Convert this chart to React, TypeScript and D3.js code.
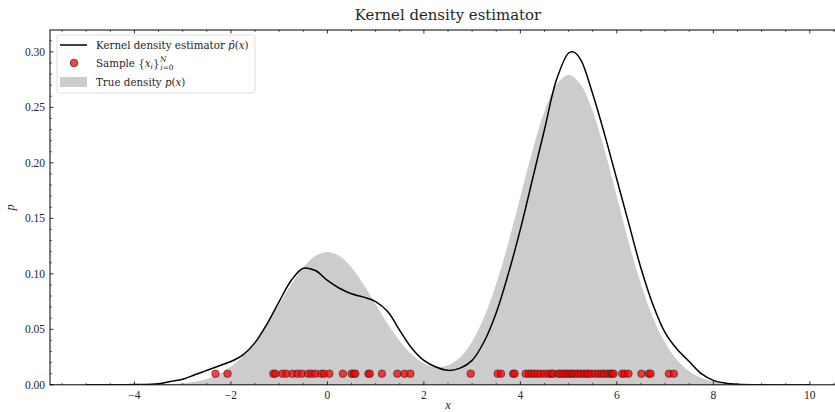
import React from "react";
import * as d3 from "d3";

// ---- data ----
const kdeX = [-5, -4.5, -4, -3.5, -3.25, -3, -2.75, -2.5, -2.25, -2, -1.75, -1.5, -1.25, -1, -0.75, -0.5, -0.25, 0, 0.25, 0.5, 0.75, 1, 1.25, 1.5, 1.75, 2, 2.25, 2.5, 2.75, 3, 3.25, 3.5, 3.75, 4, 4.25, 4.5, 4.75, 5, 5.1, 5.25, 5.5, 5.75, 6, 6.25, 6.5, 6.75, 7, 7.25, 7.5, 7.75, 8, 8.25, 8.5, 9, 10];
const kdeY = [0, 0, 0.0002, 0.001, 0.003, 0.005, 0.009, 0.013, 0.017, 0.021, 0.027, 0.038, 0.055, 0.075, 0.094, 0.105, 0.103, 0.094, 0.087, 0.082, 0.079, 0.075, 0.066, 0.049, 0.033, 0.022, 0.016, 0.013, 0.015, 0.022, 0.039, 0.065, 0.1, 0.14, 0.185, 0.23, 0.275, 0.299, 0.3, 0.293, 0.262, 0.225, 0.185, 0.145, 0.105, 0.072, 0.047, 0.032, 0.021, 0.01, 0.004, 0.0015, 0.0005, 0, 0];

const trueX = [-5, -4, -3.5, -3, -2.75, -2.5, -2.25, -2, -1.75, -1.5, -1.25, -1, -0.75, -0.5, -0.25, 0, 0.25, 0.5, 0.75, 1, 1.25, 1.5, 1.75, 2, 2.25, 2.5, 2.75, 3, 3.25, 3.5, 3.75, 4, 4.25, 4.5, 4.75, 5, 5.25, 5.5, 5.75, 6, 6.25, 6.5, 6.75, 7, 7.25, 7.5, 7.75, 8, 8.5, 9, 10];
const trueY = [0, 0.0, 0.0003, 0.0013, 0.0027, 0.0053, 0.0095, 0.0162, 0.0259, 0.0389, 0.0548, 0.0726, 0.0903, 0.1056, 0.116, 0.1197, 0.116, 0.1056, 0.0903, 0.0726, 0.0548, 0.0395, 0.0273, 0.0193, 0.0159, 0.0176, 0.0249, 0.0391, 0.061, 0.091, 0.1278, 0.1694, 0.2108, 0.2465, 0.2707, 0.2792, 0.2707, 0.2465, 0.2108, 0.1694, 0.1278, 0.0907, 0.0604, 0.0378, 0.0222, 0.0123, 0.0064, 0.0031, 0.0006, 0.0001, 0];

const sampleX = [
  -2.32, -2.07, -1.12, -1.08, -0.93, -0.85, -0.72, -0.62, -0.53, -0.4, -0.33, -0.25, -0.13, -0.07, 0.04,
  0.32, 0.5, 0.55, 0.58, 0.85, 0.88, 1.13, 1.45, 1.6, 1.72,
  2.97, 3.53, 3.6, 3.85, 3.88, 4.11, 4.18, 4.23, 4.29, 4.36, 4.42, 4.5, 4.58, 4.64, 4.68, 4.78, 4.82, 4.88,
  4.92, 4.97, 5.02, 5.06, 5.1, 5.16, 5.21, 5.26, 5.32, 5.38, 5.41, 5.47, 5.55, 5.62, 5.68, 5.73, 5.8, 5.86,
  5.9, 5.93, 6.11, 6.16, 6.24, 6.51, 6.66, 6.7, 7.08, 7.18,
];
const sampleLevel = 0.01;

const xMajorTicks = [-4, -2, 0, 2, 4, 6, 8, 10];
const yMajorTicks = [0, 0.05, 0.1, 0.15, 0.2, 0.25, 0.3];

const W = 835;
const H = 412;
const L = 50;
const R = 846;
const T = 30;
const B = 384.8;
const NUM_FONT = "'Liberation Serif', serif";
const TXT_FONT = "'DejaVu Serif', serif";

export default function App() {
  const x = d3.scaleLinear().domain([-5.75, 10.75]).range([L, R]);
  const y = d3.scaleLinear().domain([0, 0.3197]).range([B, T]);

  const line = d3
    .line<number>()
    .x((_, i) => x(kdeX[i]))
    .y((d) => y(d))
    .curve(d3.curveCatmullRom.alpha(0.5));
  const area = d3
    .area<number>()
    .x((_, i) => x(trueX[i]))
    .y0(y(0))
    .y1((d) => y(d))
    .curve(d3.curveCatmullRom.alpha(0.5));

  const xMinor = d3.range(-5.5, 10.76, 0.5).filter((v) => !xMajorTicks.some((m) => Math.abs(m - v) < 1e-6));
  const yMinor = d3.range(0, 0.32, 0.01).filter((v) => !yMajorTicks.some((m) => Math.abs(m - v) < 1e-6));

  const fmtY = (v: number) => v.toFixed(2);
  const fmtX = (v: number) => (v < 0 ? "\u2212" + Math.abs(v) : String(v));
  const txt = "#262626";
  const lf = 10.3;
  const sf = 7.4;

  return (
    <svg width={W} height={H} style={{ position: "absolute", left: 0, top: 0, background: "#fff" }}>
      <defs>
        <clipPath id="plot">
          <rect x={L} y={T} width={R - L} height={B - T} />
        </clipPath>
      </defs>
      <g clipPath="url(#plot)">
        <path d={area(trueY) || ""} fill="#cccccc" stroke="none" />
        <path d={line(kdeY) || ""} fill="none" stroke="#000" strokeWidth={1.5} />
        {sampleX.map((v, i) => (
          <circle key={i} cx={x(v)} cy={y(sampleLevel)} r={3.8} fill="#ff0000" fillOpacity={0.75} stroke="#222" strokeOpacity={0.8} strokeWidth={0.7} />
        ))}
      </g>

      {/* frame */}
      <rect x={L} y={T} width={R - L} height={B - T} fill="none" stroke="#000" strokeWidth={1} />

      {/* x ticks */}
      {xMajorTicks.map((v) => (
        <g key={"xm" + v}>
          <line x1={x(v)} x2={x(v)} y1={B} y2={B - 3.5} stroke="#000" strokeWidth={0.8} />
          <line x1={x(v)} x2={x(v)} y1={T} y2={T + 3.5} stroke="#000" strokeWidth={0.8} />
          <text x={x(v)} y={B + 14} textAnchor="middle" fontSize={11.5} fontFamily={NUM_FONT} fill={txt}>
            {fmtX(v)}
          </text>
        </g>
      ))}
      {xMinor.map((v) => (
        <g key={"xn" + v}>
          <line x1={x(v)} x2={x(v)} y1={B} y2={B - 2} stroke="#000" strokeWidth={0.6} />
          <line x1={x(v)} x2={x(v)} y1={T} y2={T + 2} stroke="#000" strokeWidth={0.6} />
        </g>
      ))}
      {/* y ticks */}
      {yMajorTicks.map((v) => (
        <g key={"ym" + v}>
          <line x1={L} x2={L + 3.5} y1={y(v)} y2={y(v)} stroke="#000" strokeWidth={0.8} />
          <text x={L - 5} y={y(v) + 4} textAnchor="end" fontSize={11.5} fontFamily={NUM_FONT} fill={txt}>
            {fmtY(v)}
          </text>
        </g>
      ))}
      {yMinor.map((v) => (
        <line key={"yn" + v} x1={L} x2={L + 2} y1={y(v)} y2={y(v)} stroke="#000" strokeWidth={0.6} />
      ))}

      {/* axis labels */}
      <text x={(L + R) / 2} y={409} textAnchor="middle" fontSize={12.5} fontFamily={NUM_FONT} fontStyle="italic" fill={txt}>
        x
      </text>
      <text transform={`translate(14, ${(T + B) / 2}) rotate(-90)`} textAnchor="middle" fontSize={12.5} fontFamily={NUM_FONT} fontStyle="italic" fill={txt}>
        p
      </text>

      {/* title */}
      <text x={(L + R) / 2} y={20} textAnchor="middle" fontSize={14.9} fontFamily={TXT_FONT} fill={txt}>
        Kernel density estimator
      </text>

      {/* legend */}
      <g fontFamily={TXT_FONT} fill={txt}>
        <rect x={57} y={35} width={198} height={58} rx={2.5} fill="#fff" fillOpacity={0.85} stroke="#d6d6d6" strokeWidth={0.8} />
        <line x1={60} x2={87} y1={45} y2={45} stroke="#000" strokeWidth={1.5} />
        <text x={96} y={48.8} fontSize={lf}>
          Kernel density estimator <tspan fontStyle="italic">p̂</tspan>(<tspan fontStyle="italic">x</tspan>)
        </text>
        <circle cx={74} cy={63} r={3.8} fill="#ff0000" fillOpacity={0.75} stroke="#222" strokeWidth={0.7} />
        <text x={96} y={66.8} fontSize={lf}>
          Sample {"{"}
          <tspan fontStyle="italic">x</tspan>
          <tspan fontSize={sf} fontStyle="italic" dy={2.5}>i</tspan>
          <tspan dy={-2.5}>{"}"}</tspan>
          <tspan fontSize={sf} fontStyle="italic" dx={0.5} dy={-5}>N</tspan>
          <tspan fontSize={sf} fontStyle="italic" dx={-6.2} dy={8.5}>i</tspan>
          <tspan fontSize={sf}>=0</tspan>
        </text>
        <rect x={60} y={77} width={27} height={10} fill="#cccccc" />
        <text x={96} y={85.8} fontSize={lf}>
          True density <tspan fontStyle="italic">p</tspan>(<tspan fontStyle="italic">x</tspan>)
        </text>
      </g>
    </svg>
  );
}
